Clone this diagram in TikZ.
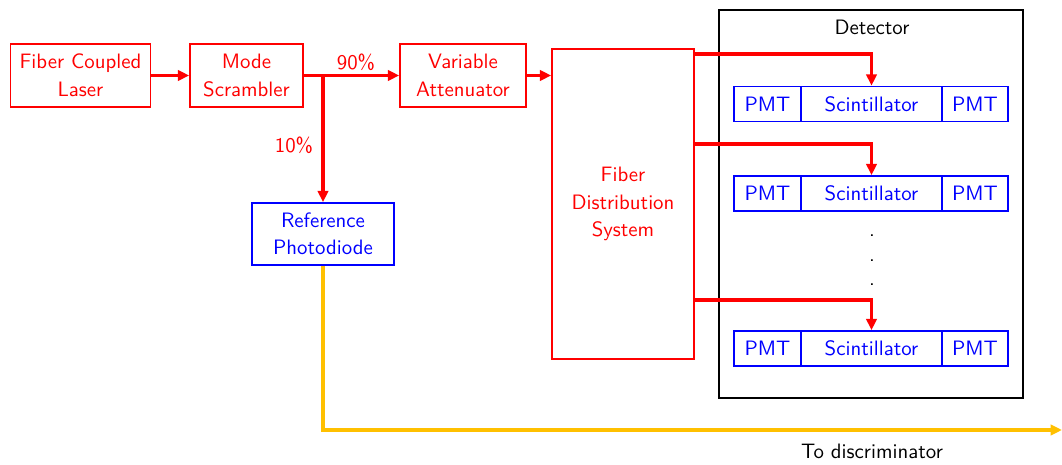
\documentclass[tikz,border=0pt]{standalone}
\usetikzlibrary{arrows.meta,calc}
\definecolor{yel}{RGB}{255,192,0}
\newcommand\pxu{0.48pt}
\begin{document}
\begin{tikzpicture}[x=0.48pt,y=-0.48pt,
  font={\sffamily\fontsize{10}{13.2}\selectfont},
  box/.style={draw, line width=0.75pt, inner sep=0pt, align=center},
  rbox/.style={box, red, text=red},
  bbox/.style={box, blue, text=blue},
  rarr/.style={red, line width=1.6pt, -{Triangle[length=5.5pt,width=5pt]}},
  yarr/.style={yel, line width=1.6pt, -{Triangle[length=5.5pt,width=5pt]}},
  lbl/.style={inner sep=0pt}]
\useasboundingbox (0,0) rectangle (1062,465);
% main chain
\node[rbox, minimum width=140*\pxu, minimum height=63*\pxu] (laser) at (80.5,75.5) {Fiber Coupled\\Laser};
\node[rbox, minimum width=113*\pxu, minimum height=63*\pxu] (ms) at (246.5,75.5) {Mode\\Scrambler};
\node[rbox, minimum width=126*\pxu, minimum height=63*\pxu] (va) at (463,75.5) {Variable\\Attenuator};
\node[bbox, minimum width=142*\pxu, minimum height=62*\pxu] (ref) at (323,234) {Reference\\Photodiode};
\node[rbox, minimum width=142*\pxu, minimum height=310*\pxu] (fds) at (623,204) {Fiber\\Distribution\\System};
% detector
\node[draw, black, line width=0.75pt, minimum width=304*\pxu, minimum height=388*\pxu, inner sep=0pt] (det) at (871,204) {};
\node[lbl] (detl) at (872,27) {Detector};
\foreach \i/\yy in {1/104,2/193.5,3/348.5}{
  \node[bbox, minimum width=67*\pxu, minimum height=35*\pxu] (pl\i) at (767.5,\yy) {PMT};
  \node[bbox, minimum width=141*\pxu, minimum height=35*\pxu] (s\i) at (871.5,\yy) {Scintillator};
  \node[bbox, minimum width=66*\pxu, minimum height=35*\pxu] (pr\i) at (975,\yy) {PMT};
}
\node[lbl] (d1) at (872,236) {.};
\node[lbl] (d2) at (872,260.5) {.};
\node[lbl] (d3) at (872,285) {.};
% arrows
\draw[rarr] (laser.east) -- (ms.west);
\draw[rarr] (ms.east) -- (va.west);
\draw[rarr] (ms.east -| ref.north) -- (ref.north);
\draw[rarr] (va.east) -- (fds.west |- va.east);
\node[lbl, red] (p90) at (356,62) {90\%};
\node[lbl, red] (p10) at (294,145) {10\%};
\coordinate (f1) at (694,54);
\coordinate (f2) at (694,144);
\coordinate (f3) at (694,300);
\draw[rarr] (fds.east |- f1) -| (s1.north);
\draw[rarr] (fds.east |- f2) -| (s2.north);
\draw[rarr] (fds.east |- f3) -| (s3.north);
% output
\coordinate (out) at (1062,430);
\draw[yarr] (ref.south) |- (out);
\node[lbl] (disc) at (872,451) {To discriminator};
\end{tikzpicture}
\end{document}
